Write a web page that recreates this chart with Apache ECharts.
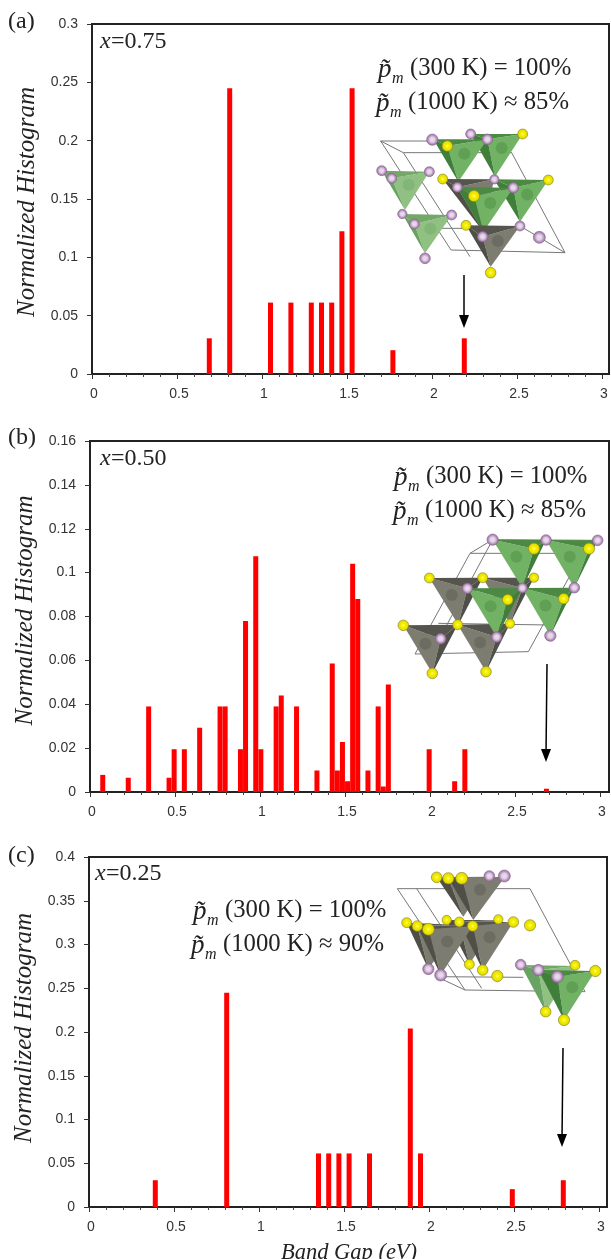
<!DOCTYPE html>
<html><head><meta charset="utf-8">
<style>html,body{margin:0;padding:0;background:#fff}#c{width:611px;height:1259px}</style>
<script src="https://cdn.jsdelivr.net/npm/echarts@6/dist/echarts.min.js"></script>
</head><body><div id="c"></div>
<script>
const bandGapA=[0.69,0.81,1.05,1.17,1.29,1.35,1.41,1.47,1.53,1.77,2.19];
const histA=[0.0306,0.245,0.0612,0.0612,0.0612,0.0612,0.0612,0.1224,0.245,0.0204,0.0306];
const bandGapB=[0.075,0.225,0.345,0.465,0.495,0.555,0.645,0.765,0.795,0.885,0.915,0.975,1.005,1.095,1.125,1.215,1.335,1.425,1.455,1.485,1.515,1.545,1.575,1.635,1.695,1.725,1.755,1.995,2.145,2.205,2.685];
const histB=[0.0078,0.0065,0.039,0.0065,0.0195,0.0195,0.0293,0.039,0.039,0.0195,0.078,0.1075,0.0195,0.039,0.044,0.039,0.0098,0.0586,0.0098,0.0228,0.0049,0.104,0.088,0.0098,0.039,0.0025,0.049,0.0195,0.0049,0.0195,0.0015];
const bandGapC=[0.39,0.81,1.35,1.41,1.47,1.53,1.65,1.89,1.95,2.49,2.79];
const histC=[0.0306,0.245,0.0612,0.0612,0.0612,0.0612,0.0612,0.204,0.0612,0.0204,0.0306];
const yMaxA=0.3, yStepA=0.05, yMaxB=0.16, yStepB=0.02, yMaxC=0.4, yStepC=0.05;

const chart=echarts.init(document.getElementById('c'),null,{renderer:'canvas'});
const SERIF='"Liberation Serif",serif', SANS='"Liberation Sans",sans-serif';
const zip=(a,b)=>a.map((v,i)=>[v,b[i]]);
const panels=[
 {l:92,t:24,b:374,fr:609,xs:bandGapA,ys:histA,max:yMaxA,step:yStepA,pad:[0,6,0,0]},
 {l:90,t:441,b:792,fr:609,xs:bandGapB,ys:histB,max:yMaxB,step:yStepB,pad:[0,0,0,12]},
 {l:89,t:857,b:1207,fr:607,xs:bandGapC,ys:histC,max:yMaxC,step:yStepC,pad:[0,0,0,8]}
];
const grids=[],xAxes=[],yAxes=[],series=[],g=[];
panels.forEach((p,i)=>{
 grids.push({left:p.l,top:p.t,width:510,height:p.b-p.t,show:false,outerBoundsMode:'none'});
 xAxes.push({type:'value',gridIndex:i,min:0,max:3,interval:0.5,
  axisLine:{show:true,onZero:false,lineStyle:{color:'#222',width:2}},
  axisTick:{show:true,length:5,lineStyle:{color:'#333',width:1}},
  minorTick:{show:true,splitNumber:5,length:3,lineStyle:{color:'#444',width:1}},
  splitLine:{show:false},
  axisLabel:{color:'#333',fontFamily:SANS,fontSize:14,margin:13,padding:[0,0,0,4],formatter:v=>String(v)},
  name:i===2?'Band Gap (eV)':'',nameLocation:'middle',nameGap:35,
  nameTextStyle:{fontFamily:SERIF,fontStyle:'italic',fontSize:22.5,color:'#222',padding:[0,0,0,10]}});
 yAxes.push({type:'value',gridIndex:i,min:0,max:p.max,interval:p.step,
  axisLine:{show:true,lineStyle:{color:'#222',width:2}},
  axisTick:{show:true,length:5,lineStyle:{color:'#333',width:1}},
  splitLine:{show:false},
  axisLabel:{color:'#333',fontFamily:SANS,fontSize:14,margin:14,formatter:v=>String(+v.toFixed(2))},
  name:'Normalized Histogram',nameLocation:'middle',nameGap:51,
  nameTextStyle:{fontFamily:SERIF,fontStyle:'italic',fontSize:25,color:'#222',padding:p.pad}});
 series.push({type:'bar',xAxisIndex:i,yAxisIndex:i,data:zip(p.xs,p.ys),barWidth:5,barGap:'-100%',
  itemStyle:{color:'#ff0000'},silent:true,animation:false});
 g.push({type:'polyline',z:5,shape:{points:[[p.l+510,p.b],[p.fr,p.b],[p.fr,p.t],[p.l-1,p.t]]},
  style:{fill:'none',stroke:'#222',lineWidth:2}});
});

function text(x,y,s,size,it){g.push({type:'text',x,y,z:6,style:{text:s,font:(it?'italic ':'')+size+'px '+SERIF,fill:'#222',verticalAlign:'middle',align:'left'}});}
[['(a)',8,22],['(b)',8,438],['(c)',8,856]].forEach(t=>text(t[1],t[2],t[0],24));
[[100,42,'0.75'],[100,459,'0.50'],[95,874,'0.25']].forEach(t=>{
 text(t[0],t[1],'x',24,1); text(t[0]+11,t[1],'='+t[2],24);
});
function pm(x,y,rest){
 text(x,y+1,'p\u0303',27,1); text(x+14,y+10,'m',16,1); text(x+32,y,rest,24.7);
}
pm(378,69,'(300 K) = 100%'); pm(376,103,'(1000 K) \u2248 85%');
pm(394,477,'(300 K) = 100%'); pm(393,511,'(1000 K) \u2248 85%');
pm(193,911,'(300 K) = 100%'); pm(191,945,'(1000 K) \u2248 90%');

function arrow(x1,y1,x2,y2){
 g.push({type:'line',z:6,shape:{x1,y1,x2,y2:y2-8},style:{stroke:'#000',lineWidth:1.5}});
 g.push({type:'polygon',z:6,shape:{points:[[x2-5,y2-13],[x2+5,y2-13],[x2,y2]]},style:{fill:'#000'}});
}
arrow(464,275,464,328); arrow(547,664,546,762); arrow(563,1048,562,1147);

const PAL={
 g:['#72b265','#3f7f3a','#4c8a44'], gl:['#90c082','#69a363','#74a868'], k:['#7c7c70','#4f4f48','#55554e']
};
const area=(a,b,c)=>Math.abs((b[0]-a[0])*(c[1]-a[1])-(c[0]-a[0])*(b[1]-a[1]));
function crystal(ox,oy,cell,tets,purple,yellow){
 const P=p=>[ox+p[0]/3,oy+p[1]/3];
 cell.forEach(c=>g.push({type:'line',z:2,shape:{x1:ox+c[0]/3,y1:oy+c[1]/3,x2:ox+c[2]/3,y2:oy+c[3]/3},style:{stroke:'#777',lineWidth:1}}));
 tets.forEach(t=>{
  const pal=PAL[t[0]],a=t[1],b=t[2],f=t[3],d=t[4];
  const leftBig=area(a,f,d)>area(f,b,d);
  const big=leftBig?[a,f,d]:[f,b,d], small=leftBig?[f,b,d]:[a,f,d];
  const cx=(big[0][0]+big[1][0]+big[2][0])/3,cy=(big[0][1]+big[1][1]+big[2][1])/3-6;
  g.push({type:'polygon',z:3,shape:{points:big.map(P)},style:{fill:pal[0]}});
  g.push({type:'polygon',z:3,shape:{points:small.map(P)},style:{fill:pal[1]}});
  g.push({type:'polygon',z:3,shape:{points:[a,b,f].map(P)},style:{fill:pal[2]}});
  g.push({type:'circle',z:3,shape:{cx:ox+cx/3,cy:oy+cy/3,r:6},style:{fill:pal[1],opacity:0.35}});
 });
 const atom=(a,s,c2)=>g.push({type:'circle',z:4,shape:{cx:ox+a[0]/3,cy:oy+a[1]/3,r:a[2]/3},
  style:{stroke:c2,lineWidth:0.6,fill:new echarts.graphic.RadialGradient(0.5,0.5,0.5,s)}});
 purple.forEach(a=>atom(a,[{offset:0,color:'#eadfec'},{offset:0.4,color:'#e2d2e6'},{offset:0.75,color:'#b48cbc'},{offset:1,color:'#9a74a2'}],'#7f6085'));
 yellow.forEach(a=>atom(a,[{offset:0,color:'#ffff80'},{offset:0.3,color:'#f6f200'},{offset:0.8,color:'#e6dc00'},{offset:1,color:'#b8b000'}],'#8f8a20'));
}
crystal(370,40,
 [[32,303,195,303],[32,303,243,630],[100,338,425,338],[32,303,100,338],[243,630,585,638],[425,338,585,638],[195,565,450,565],[100,338,300,650],[450,558,585,638],[303,282,425,338]],
 [['gl',[35,392],[178,395],[65,415],[105,510]],
  ['gl',[97,522],[245,525],[133,552],[165,640]],
  ['g',[302,282],[458,282],[352,298],[375,410]],
  ['g',[190,298],[352,298],[232,318],[265,425]],
  ['k',[218,417],[372,418],[262,442],[340,575]],
  ['g',[372,418],[535,420],[430,443],[450,545]],
  ['g',[262,442],[430,443],[312,468],[340,575]],
  ['k',[288,556],[450,558],[338,590],[362,680]]],
 [[187,299,17],[302,282,15],[352,298,16],[35,392,15],[65,415,15],[178,395,15],[373,418,14],[262,442,15],[430,443,16],[97,522,14],[133,552,15],[245,525,15],[450,558,15],[338,590,16],[508,592,18],[165,655,16]],
 [[232,318,16],[458,282,15],[218,417,15],[535,420,15],[312,468,17],[288,556,15],[362,698,16]]);
crystal(390,450,
 [[308,269,623,271],[240,310,520,310],[308,269,240,310],[240,310,75,612],[75,612,415,605],[415,605,560,340],[145,520,480,525],[308,269,130,600]],
 [['k',[118,384],[278,383],[232,415],[205,524]],
  ['k',[278,383],[432,383],[397,414],[360,521]],
  ['g',[308,269],[468,270],[432,296],[397,414]],
  ['g',[468,270],[623,271],[597,296],[553,413]],
  ['k',[40,526],[203,524],[152,566],[127,670]],
  ['k',[203,524],[360,521],[320,561],[288,665]],
  ['g',[232,415],[397,414],[353,449],[320,561]],
  ['g',[397,414],[553,413],[521,446],[481,557]]],
 [[308,269,17],[468,270,16],[623,271,16],[232,415,16],[397,414,15],[553,413,16],[152,566,16],[320,561,16],[481,557,17]],
 [[432,296,17],[597,296,17],[118,384,15],[278,383,15],[432,383,14],[353,449,16],[521,446,16],[203,524,15],[360,521,14],[40,526,16],[127,670,16],[288,665,16]]);
crystal(180,860,
 [[652,86,1050,86],[652,86,855,390],[710,86,905,385],[1050,86,1215,395],[855,390,1215,395],[770,350,1030,352],[770,350,855,390]],
 [['k',[770,52],[930,50],[805,55],[850,170]],
  ['k',[805,55],[975,50],[845,55],[880,180]],
  ['k',[800,180],[955,180],[838,186],[868,313]],
  ['k',[680,188],[840,195],[712,198],[745,327]],
  ['k',[838,186],[1000,186],[878,198],[908,330]],
  ['k',[712,198],[878,198],[745,208],[782,345]],
  ['gl',[1022,315],[1185,318],[1075,330],[1097,455]],
  ['g',[1075,330],[1246,333],[1132,350],[1152,480]]],
 [[928,48,16],[973,48,18],[745,327,17],[782,345,18],[1022,314,16],[1075,330,17],[1132,350,18]],
 [[770,52,16],[805,55,17],[845,55,18],[800,180,14],[838,186,15],[955,178,14],[1000,186,16],[1050,196,17],[680,188,15],[712,198,16],[745,208,18],[878,198,16],[868,313,15],[908,330,16],[952,348,17],[1185,316,15],[1246,333,17],[1097,455,16],[1152,480,17]]);

chart.setOption({animation:false,backgroundColor:'#fff',grid:grids,xAxis:xAxes,yAxis:yAxes,series,graphic:{elements:g}});
</script></body></html>
